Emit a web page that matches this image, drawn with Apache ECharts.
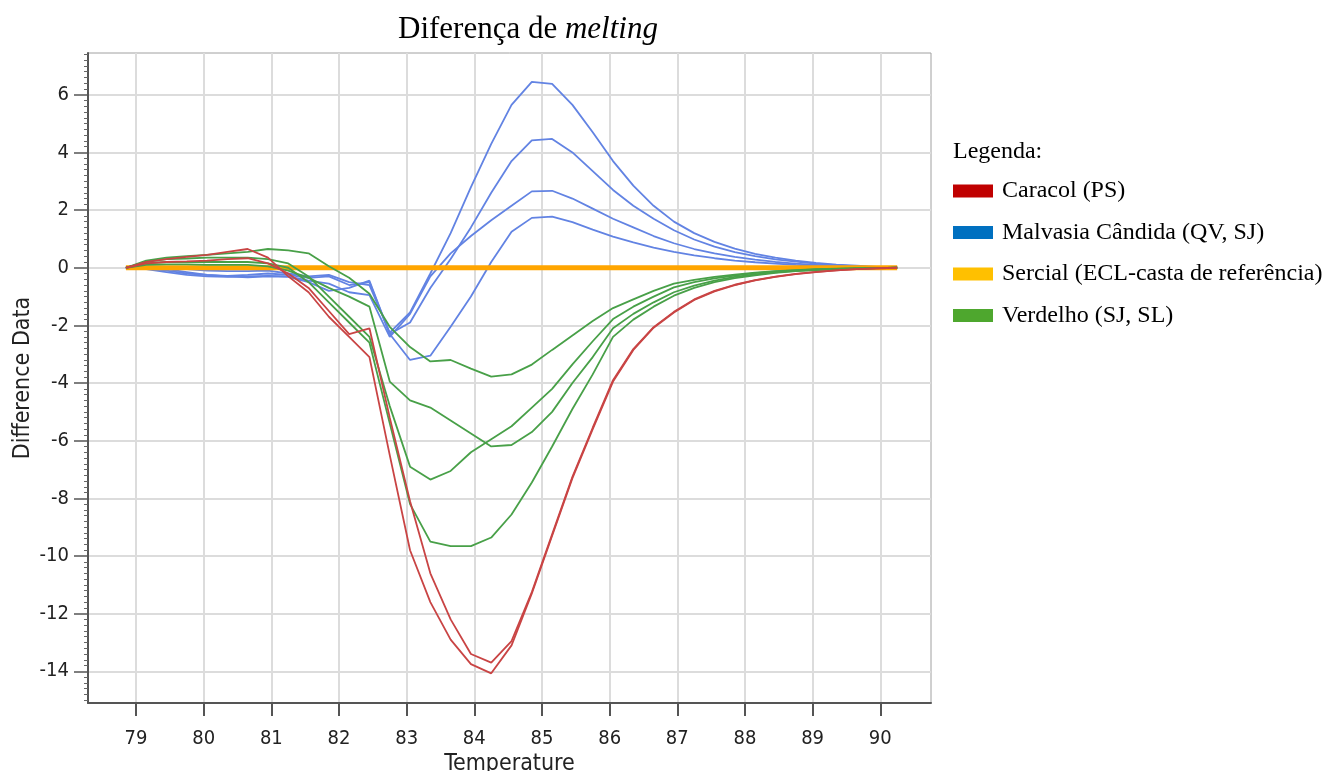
<!DOCTYPE html>
<html><head><meta charset="utf-8">
<script src="https://cdn.jsdelivr.net/npm/echarts@6/dist/echarts.min.js"></script>
<style>html,body{margin:0;padding:0;background:#fff}#c{width:1325px;height:771px}</style>
</head><body><div id="c"></div>
<script>
// Temperature (°C) sampling points
const temperatures = [78.85, 79.15, 79.45, 79.75, 80.05, 80.35, 80.65, 80.95, 81.25, 81.55, 81.85, 82.15, 82.45, 82.75, 83.05, 83.35, 83.65, 83.95, 84.25, 84.55, 84.85, 85.15, 85.45, 85.75, 86.05, 86.35, 86.65, 86.95, 87.25, 87.55, 87.85, 88.15, 88.45, 88.75, 89.05, 89.35, 89.65, 89.95, 90.25];

// Caracol (PS)
const caracol1 = [0, 0.2, 0.3, 0.38, 0.45, 0.55, 0.65, 0.35, -0.3, -0.85, -1.7, -2.4, -3.1, -6.5, -9.8, -11.6, -12.9, -13.75, -14.07, -13.1, -11.3, -9.3, -7.3, -5.6, -3.95, -2.85, -2.08, -1.55, -1.12, -0.82, -0.6, -0.44, -0.32, -0.22, -0.15, -0.09, -0.05, -0.02, 0];
const caracol2 = [0, 0.15, 0.2, 0.22, 0.25, 0.3, 0.33, 0.15, -0.2, -0.7, -1.5, -2.3, -2.1, -5.2, -8.1, -10.6, -12.2, -13.4, -13.7, -12.95, -11.25, -9.25, -7.25, -5.55, -3.9, -2.82, -2.06, -1.53, -1.1, -0.8, -0.59, -0.43, -0.31, -0.21, -0.14, -0.09, -0.05, -0.02, 0];

// Malvasia Cândida (QV, SJ)
const malvasia1 = [0, 0.0, -0.02, -0.05, -0.1, -0.12, -0.12, -0.1, -0.2, -0.3, -0.25, -0.5, -0.6, -2.25, -1.55, -0.2, 1.2, 2.8, 4.3, 5.65, 6.45, 6.38, 5.65, 4.7, 3.7, 2.85, 2.15, 1.6, 1.2, 0.9, 0.66, 0.48, 0.35, 0.25, 0.17, 0.11, 0.07, 0.03, 0];
const malvasia2 = [0, -0.02, -0.1, -0.2, -0.25, -0.28, -0.25, -0.2, -0.25, -0.35, -0.3, -0.6, -0.5, -2.3, -1.9, -0.7, 0.3, 1.4, 2.6, 3.7, 4.42, 4.47, 4.0, 3.35, 2.7, 2.15, 1.7, 1.3, 0.98, 0.73, 0.54, 0.4, 0.29, 0.21, 0.14, 0.09, 0.05, 0.02, 0];
const malvasia3 = [0, -0.05, -0.15, -0.25, -0.3, -0.32, -0.3, -0.28, -0.3, -0.45, -0.55, -0.85, -0.95, -2.4, -1.6, -0.3, 0.5, 1.1, 1.65, 2.15, 2.65, 2.67, 2.4, 2.05, 1.7, 1.4, 1.1, 0.85, 0.65, 0.5, 0.38, 0.28, 0.2, 0.14, 0.1, 0.06, 0.04, 0.02, 0];
const malvasia4 = [0, 0.02, -0.05, -0.15, -0.25, -0.3, -0.33, -0.3, -0.32, -0.5, -0.8, -0.7, -0.45, -2.3, -3.2, -3.05, -2.05, -1.0, 0.2, 1.25, 1.73, 1.77, 1.58, 1.32, 1.08, 0.88, 0.7, 0.55, 0.43, 0.33, 0.25, 0.19, 0.14, 0.1, 0.07, 0.04, 0.03, 0.01, 0];

// Sercial (ECL-casta de referência)
const sercial = [0, 0, 0, 0, 0, 0, 0, 0, 0, 0, 0, 0, 0, 0, 0, 0, 0, 0, 0, 0, 0, 0, 0, 0, 0, 0, 0, 0, 0, 0, 0, 0, 0, 0, 0, 0, 0, 0, 0];

// Verdelho (SJ, SL)
const verdelho1 = [0, 0.25, 0.35, 0.4, 0.45, 0.5, 0.55, 0.65, 0.6, 0.5, 0.05, -0.35, -0.9, -2.05, -2.75, -3.25, -3.2, -3.5, -3.78, -3.7, -3.36, -2.85, -2.35, -1.85, -1.4, -1.1, -0.8, -0.55, -0.42, -0.32, -0.24, -0.17, -0.12, -0.08, -0.05, -0.03, -0.02, -0.01, 0];
const verdelho2 = [0, 0.2, 0.3, 0.32, 0.35, 0.35, 0.35, 0.3, 0.15, -0.3, -1.0, -1.7, -2.4, -4.8, -6.9, -7.35, -7.05, -6.4, -5.95, -5.5, -4.85, -4.2, -3.35, -2.55, -1.78, -1.35, -1.0, -0.68, -0.5, -0.37, -0.27, -0.19, -0.13, -0.09, -0.06, -0.04, -0.02, -0.01, 0];
const verdelho3 = [0, 0.1, 0.12, 0.12, 0.1, 0.1, 0.1, 0.05, -0.1, -0.35, -0.7, -1.0, -1.35, -3.95, -4.6, -4.85, -5.3, -5.75, -6.2, -6.15, -5.7, -5.0, -4.0, -3.1, -2.1, -1.6, -1.2, -0.85, -0.62, -0.45, -0.32, -0.23, -0.16, -0.11, -0.07, -0.04, -0.02, -0.01, 0];
const verdelho4 = [0, 0.15, 0.2, 0.2, 0.2, 0.2, 0.2, 0.15, 0.0, -0.5, -1.2, -1.9, -2.6, -5.4, -8.2, -9.5, -9.66, -9.66, -9.36, -8.56, -7.45, -6.2, -4.9, -3.7, -2.4, -1.8, -1.35, -0.97, -0.7, -0.5, -0.36, -0.26, -0.18, -0.12, -0.08, -0.05, -0.03, -0.01, 0];

const xTickValues = [79, 80, 81, 82, 83, 84, 85, 86, 87, 88, 89, 90];
const yTickValues = [-14, -12, -10, -8, -6, -4, -2, 0, 2, 4, 6];

const legendNames = ['Caracol (PS)', 'Malvasia Cândida (QV, SJ)', 'Sercial (ECL-casta de referência)', 'Verdelho (SJ, SL)'];
const legendColors = ['#c00000', '#0070c0', '#ffc000', '#4ea72e'];

const pair = arr => temperatures.map((t, i) => [t, arr[i]]);
const mk = (name, arr, color, width, z) => ({
  type: 'line', name, data: pair(arr), showSymbol: false, symbol: 'none', smooth: false, z,
  lineStyle: { color, width }, itemStyle: { color }, emphasis: { disabled: true }
});

const BLUE = '#6283e3', RED = '#c94444', GREEN = '#48a048', ORANGE = '#ffa500';
const series = [
  mk(legendNames[1], malvasia1, BLUE, 1.8, 2),
  mk(legendNames[1], malvasia2, BLUE, 1.8, 2),
  mk(legendNames[1], malvasia3, BLUE, 1.8, 2),
  mk(legendNames[1], malvasia4, BLUE, 1.8, 2),
  mk(legendNames[2], sercial, ORANGE, 5, 3),
  mk(legendNames[3], verdelho1, GREEN, 1.8, 4),
  mk(legendNames[3], verdelho2, GREEN, 1.8, 4),
  mk(legendNames[3], verdelho3, GREEN, 1.8, 4),
  mk(legendNames[3], verdelho4, GREEN, 1.8, 4),
  mk(legendNames[0], caracol1, RED, 1.8, 5),
  mk(legendNames[0], caracol2, RED, 1.8, 5)
];

const narrow = "'Liberation Sans Narrow', 'DejaVu Sans Condensed', 'Liberation Sans', sans-serif";
const serif = "'Liberation Serif', 'Times New Roman', serif";

const chart = echarts.init(document.getElementById('c'), null, { renderer: 'canvas', width: 1325, height: 771 });
chart.setOption({
  animation: false,
  backgroundColor: '#fff',
  title: {
    text: '{a|Diferença de }{b|melting}',
    left: 393, top: 9,
    textStyle: { rich: {
      a: { fontFamily: serif, fontSize: 31, fontWeight: 'normal', color: '#000' },
      b: { fontFamily: serif, fontSize: 31, fontWeight: 'normal', fontStyle: 'italic', color: '#000' }
    } }
  },
  grid: { left: 88, top: 53, right: 394, bottom: 68, show: true, borderColor: '#a0a0a0', borderWidth: 1, containLabel: false, outerBoundsMode: 'none' },
  xAxis: {
    type: 'value', min: 78.29, max: 90.75, splitNumber: 12,
    name: 'Temperature', nameLocation: 'middle', nameGap: 50, nameMoveOverlap: false,
    nameTextStyle: { fontFamily: narrow, fontSize: 23, color: '#222' },
    axisLine: { show: true, onZero: false, lineStyle: { color: '#555', width: 2 } },
    axisTick: { show: true, length: 13, customValues: xTickValues, lineStyle: { color: '#555', width: 2 } },
    axisLabel: { customValues: xTickValues, margin: 26, fontFamily: narrow, fontSize: 20, color: '#222' },
    splitLine: { show: true, lineStyle: { color: '#dcdcdc', width: 2 } }
  },
  yAxis: {
    type: 'value', min: -15.1, max: 7.45, splitNumber: 11,
    name: 'Difference Data', nameLocation: 'middle', nameGap: 53, nameRotate: 90, nameMoveOverlap: false,
    nameTextStyle: { fontFamily: narrow, fontSize: 23, color: '#222' },
    axisLine: { show: true, onZero: false, lineStyle: { color: '#555', width: 2 } },
    axisTick: { show: true, length: 14, customValues: yTickValues, lineStyle: { color: '#555', width: 1.5 } },
    minorTick: { show: true, splitNumber: 10, length: 4, lineStyle: { color: '#666', width: 1 } },
    axisLabel: { customValues: yTickValues, margin: 19, fontFamily: narrow, fontSize: 20, color: '#222' },
    splitLine: { show: true, lineStyle: { color: '#dcdcdc', width: 2 } }
  },
  legend: {
    orient: 'vertical', left: 953, top: 179, padding: 0,
    icon: 'rect', itemWidth: 40, itemHeight: 13, itemGap: 17.5,
    selectedMode: false,
    textStyle: { fontFamily: serif, fontSize: 24, lineHeight: 24, color: '#000', padding: [0, 0, 0, 4] },
    data: legendNames.map((n, i) => ({ name: n, itemStyle: { color: legendColors[i], borderWidth: 0 }, lineStyle: { color: legendColors[i] } }))
  },
  graphic: [{
    type: 'text', left: 953, top: 140,
    style: { text: 'Legenda:', fontFamily: serif, fontSize: 24, fill: '#000' }
  }],
  series
});
</script>
</body></html>
